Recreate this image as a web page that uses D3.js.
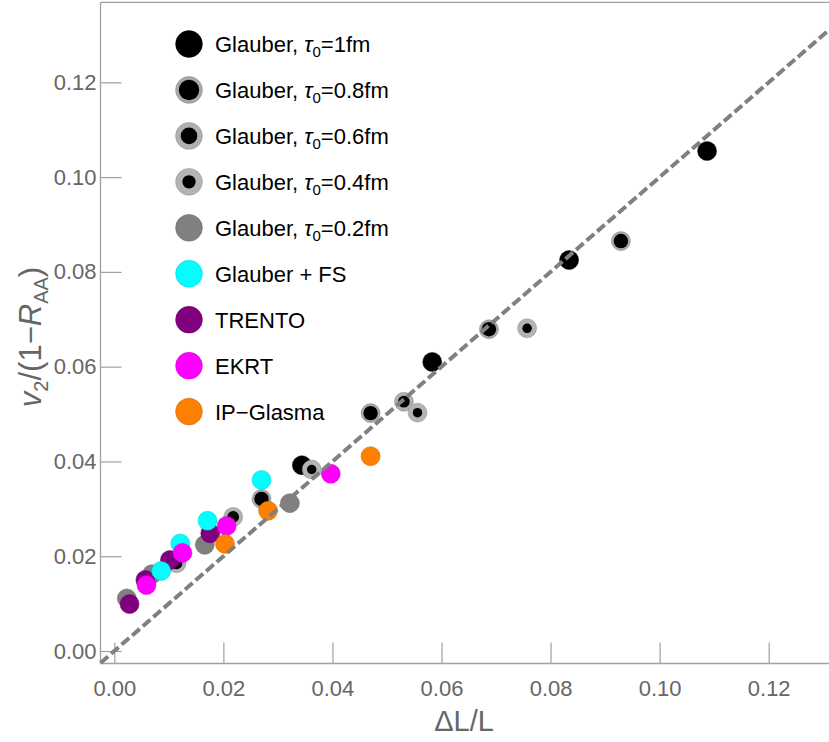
<!DOCTYPE html>
<html><head><meta charset="utf-8">
<script src="https://cdn.jsdelivr.net/npm/d3@7"></script>
<style>body{margin:0;background:#fff}svg{display:block}text{font-family:"Liberation Sans",Arial,sans-serif}</style>
</head><body>
<svg id="c" width="829" height="742"></svg>
<script>
// ---- data (ΔL/L, v2/(1-RAA)) ----
const glauber10 = [[0.1087,0.1055],[0.0834,0.0825],[0.0583,0.0610],[0.0344,0.0392]];
const glauber08 = [[0.0929,0.0865],[0.0687,0.0679],[0.0470,0.0502],[0.0270,0.0321]];
const glauber06 = [[0.0531,0.0526],[0.0218,0.0283],[0.0114,0.0185]];
const glauber04 = [[0.0757,0.0681],[0.0556,0.0503],[0.0362,0.0383]];
const glauber02 = [[0.0322,0.0312],[0.0166,0.0224],[0.0069,0.0162],[0.0023,0.0111]];
const glauberFS = [[0.0270,0.0361],[0.0171,0.0275],[0.0121,0.0227],[0.0086,0.0169]];
const trento    = [[0.0176,0.0248],[0.0102,0.0192],[0.0057,0.0150],[0.0028,0.0099]];
const ekrt      = [[0.0397,0.0374],[0.0206,0.0264],[0.0125,0.0207],[0.0059,0.0139]];
const ipGlasma  = [[0.0470,0.0411],[0.0282,0.0296],[0.0203,0.0226]];
const xTicks = [0,0.02,0.04,0.06,0.08,0.10,0.12];
const yTicks = [0,0.02,0.04,0.06,0.08,0.10,0.12];

const series = [
  {name:"Glauber, τ0=1fm",  tau:"1fm",   data:glauber10, outer:"#000000", inner:null, ratio:0},
  {name:"Glauber, τ0=0.8fm",tau:"0.8fm", data:glauber08, outer:"#a8a8a8", inner:"#000000", ratio:0.76},
  {name:"Glauber, τ0=0.6fm",tau:"0.6fm", data:glauber06, outer:"#b0b0b0", inner:"#000000", ratio:0.62},
  {name:"Glauber, τ0=0.4fm",tau:"0.4fm", data:glauber04, outer:"#b4b4b4", inner:"#000000", ratio:0.5},
  {name:"Glauber, τ0=0.2fm",tau:"0.2fm", data:glauber02, outer:"#808080", inner:null, ratio:0},
  {name:"Glauber + FS", data:glauberFS, outer:"#00ffff", inner:null, ratio:0},
  {name:"TRENTO", data:trento, outer:"#800080", inner:null, ratio:0},
  {name:"EKRT", data:ekrt, outer:"#ff00ff", inner:null, ratio:0},
  {name:"IP\u2212Glasma", data:ipGlasma, outer:"#ff8000", inner:null, ratio:0}
];
const drawOrder = [0,1,2,3,4,6,5,7,8];

const L=100.5, R=829, T=2.3, B=663.5;
const x = d3.scaleLinear().domain([-0.00253,0.13106]).range([L,R]);
const y = d3.scaleLinear().domain([-0.00264,0.13689]).range([B,T]);

const svg = d3.select("#c");
const axCol="#a0a0a0", txtCol="#666666";

// frame top
svg.append("line").attr("x1",L).attr("x2",R).attr("y1",T).attr("y2",T).attr("stroke",axCol).attr("stroke-width",1.3);

const gx = svg.append("g").attr("transform",`translate(0,${B})`)
  .call(d3.axisBottom(x).tickValues(xTicks).tickFormat(d3.format(".2f")).tickSize(-21).tickSizeOuter(0).tickPadding(17));
const gy = svg.append("g").attr("transform",`translate(${L},0)`)
  .call(d3.axisLeft(y).tickValues(yTicks).tickFormat(d3.format(".2f")).tickSize(-21).tickSizeOuter(0).tickPadding(4));
[gx,gy].forEach(g=>{
  g.select(".domain").attr("stroke",axCol).attr("stroke-width",1.3);
  g.selectAll(".tick line").attr("stroke",axCol).attr("stroke-width",1.2);
  g.selectAll(".tick text").attr("fill",txtCol).style("font-size","22px").style("font-family","'Liberation Sans',Arial,sans-serif");
});
gx.select(".domain").attr("d",`M${L},0H${R}`);
gy.select(".domain").attr("d",`M0,${B}V${T}`);

function marker(g, s, cx, cy, r){
  const dark = d3.color(s.outer).darker(0.7);
  g.append("circle").attr("cx",cx).attr("cy",cy).attr("r",r).attr("fill",s.outer)
    .attr("stroke",s.outer==="#000000"?"#000":dark).attr("stroke-width",0.8).attr("stroke-opacity",0.6);
  if(s.inner) g.append("circle").attr("cx",cx).attr("cy",cy).attr("r",r*s.ratio).attr("fill",s.inner);
}

const pts = svg.append("g");
drawOrder.forEach(i=>{
  const s=series[i];
  s.data.forEach(d=>marker(pts,s,x(d[0]),y(d[1]),9.5));
});

// y = x dashed line
const dom=[-0.00253,0.13106];
svg.append("line").attr("x1",x(dom[0])).attr("y1",y(dom[0])).attr("x2",x(dom[1])).attr("y2",y(dom[1]))
  .attr("stroke","#808080").attr("stroke-width",4).attr("stroke-dasharray","10,4");

// legend
const lg = svg.append("g");
series.forEach((s,i)=>{
  const cy = 44 + i*45.95;
  marker(lg,s,189,cy,13.4);
  const t = lg.append("text").attr("x",215).attr("y",cy+8).style("font-size","22px").attr("fill","#000");
  if(s.tau){
    t.append("tspan").text("Glauber, ");
    t.append("tspan").text("τ").style("font-style","italic");
    t.append("tspan").text("0").style("font-size","15px").attr("dy",5);
    t.append("tspan").text("="+s.tau).attr("dy",-5);
  } else t.text(s.name);
});

// axis titles
svg.append("text").attr("x",464).attr("y",731).attr("text-anchor","middle").attr("fill",txtCol).style("font-size","29px").text("ΔL/L");
const yt = svg.append("text").attr("transform","translate(41,337) rotate(-90)").attr("text-anchor","middle").attr("fill",txtCol).style("font-size","31px");
yt.append("tspan").text("v").style("font-style","italic");
yt.append("tspan").text("2").style("font-size","20px").attr("dy",7);
yt.append("tspan").text("/(1\u2212").attr("dy",-7);
yt.append("tspan").text("R").style("font-style","italic");
yt.append("tspan").text("AA").style("font-size","20px").attr("dy",7);
yt.append("tspan").text(")").attr("dy",-7);
</script>
</body></html>
